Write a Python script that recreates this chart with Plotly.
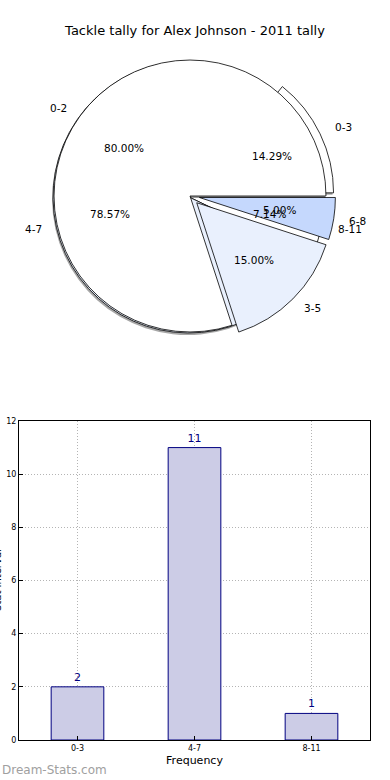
import numpy as np
import plotly.graph_objects as go

# ---------------- data ----------------
chart_title = "Tackle tally for Alex Johnson - 2011 tally"
tally_labels = ["0-3", "4-7", "8-11"]
tally_counts = [2, 11, 1]
prev_labels = ["0-2", "3-5", "6-8"]
prev_share = [80.0, 15.0, 5.0]
tally_explode = [0.07, 0.0, 0.0]
prev_explode = [0.0, 0.07, 0.07]
tally_colors = ["#ffffff", "#e9f0fd", "#ffffff"]
prev_colors = ["#ffffff", "#e9f0fd", "#c5d8fd"]
y_ticks = [0, 2, 4, 6, 8, 10, 12]
x_title = "Frequency"
y_title = "Stat Interval"
watermark = "Dream-Stats.com"

FONT = "DejaVu Sans"
W, H = 390, 780

# pie geometry (pixels)
cx, cy, half = 190, 196, 145.5
max_pull = max(max(tally_explode), max(prev_explode))
r_px = half / (1 + max_pull)


def dom(dx=0.0, dy=0.0):
    return dict(x=[(cx - half + dx) / W, (cx + half + dx) / W],
                y=[1 - (cy + half + dy) / H, 1 - (cy - half + dy) / H])


def pie_trace(values, colors, explode, domain, line_w=0.8, line_c="black"):
    # matplotlib style: first slice starts at 3 o'clock going counter-clockwise
    return go.Pie(values=values[::-1], marker=dict(colors=colors[::-1],
                  line=dict(color=line_c, width=line_w)),
                  pull=explode[::-1], sort=False, direction="clockwise",
                  rotation=90, textinfo="none", hoverinfo="skip",
                  domain=domain, showlegend=False)


def mid_angles(values):
    v = np.asarray(values, dtype=float)
    frac = v / v.sum()
    ends = np.cumsum(frac) * 360
    starts = ends - frac * 360
    return (starts + ends) / 2, frac * 100


fig = go.Figure()

# shadow of the tally pie
fig.add_trace(pie_trace(tally_counts, ["rgba(0,0,0,0.35)"] * 3, tally_explode,
                        dom(-2, 3), line_w=0))
fig.add_trace(pie_trace(tally_counts, tally_colors, tally_explode, dom(-1, 1)))
fig.add_trace(pie_trace(prev_share, prev_colors, prev_explode, dom()))

# percentage (autopct) and category labels placed like matplotlib does
annotations = []
for vals, labs, expl in [(tally_counts, tally_labels, tally_explode),
                         (prev_share, prev_labels, prev_explode)]:
    th, pct = mid_angles(vals)
    for t, p, lab, e in zip(th, pct, labs, expl):
        c, s = np.cos(np.radians(t)), np.sin(np.radians(t))
        xp = cx + (0.6 + e) * r_px * c
        yp = cy - (0.6 + e) * r_px * s
        annotations.append(dict(text=f"{p:.2f}%", x=xp / W, y=1 - yp / H,
                                xref="paper", yref="paper", xanchor="center",
                                yanchor="middle", showarrow=False,
                                font=dict(family=FONT, size=10.5, color="black")))
        xl = cx + (1.1 + e) * r_px * c
        yl = cy - (1.1 + e) * r_px * s
        annotations.append(dict(text=lab, x=xl / W, y=1 - yl / H,
                                xref="paper", yref="paper",
                                xanchor="left" if c > 0 else "right",
                                yanchor="middle", showarrow=False,
                                font=dict(family=FONT, size=10.5, color="black")))

# bar chart
fig.add_trace(go.Bar(x=tally_labels, y=tally_counts, width=0.45,
                     marker=dict(color="#cccce6", line=dict(color="#000080", width=1)),
                     text=tally_counts, textposition="outside",
                     textfont=dict(family=FONT, size=11, color="#000080"),
                     cliponaxis=False, hoverinfo="skip", showlegend=False))

axis_common = dict(showline=True, linecolor="black", linewidth=1, mirror=True,
                   ticks="inside", ticklen=4, tickcolor="black",
                   showgrid=True, gridcolor="#b4b4b4", griddash="1px,2px", gridwidth=1,
                   zeroline=False, automargin=False,
                   tickfont=dict(family=FONT, size=8, color="black"))

annotations += [
    dict(text=y_title, textangle=-90, x=-3 / W, y=1 - 580 / H, xref="paper",
         yref="paper", xanchor="center", yanchor="middle", showarrow=False,
         font=dict(family=FONT, size=10, color="black")),
    dict(text=watermark, x=0, y=1 - 770 / H, xref="paper", yref="paper",
         xanchor="left", yanchor="middle", showarrow=False,
         font=dict(family=FONT, size=12, color="#a0a0a0")),
]

fig.update_layout(
    width=W, height=H,
    margin=dict(l=0, r=0, t=0, b=0),
    paper_bgcolor="white", plot_bgcolor="white",
    title=dict(text=chart_title, x=0.5, xanchor="center", y=1 - 30 / H,
               yanchor="middle", font=dict(family=FONT, size=13, color="black")),
    xaxis=dict(domain=[19 / W, 370 / W], range=[-0.5, 2.5], type="category",
               title=dict(text=x_title, font=dict(family=FONT, size=11, color="black"),
                          standoff=4),
               **axis_common),
    yaxis=dict(domain=[1 - 740 / H, 1 - 421 / H], range=[0, 12], tickvals=y_ticks,
               **axis_common),
    annotations=annotations,
)

fig.write_html("out.html", config={"displayModeBar": False},
               post_script="document.body.style.margin='0';"
                           "document.body.style.overflow='hidden';")
